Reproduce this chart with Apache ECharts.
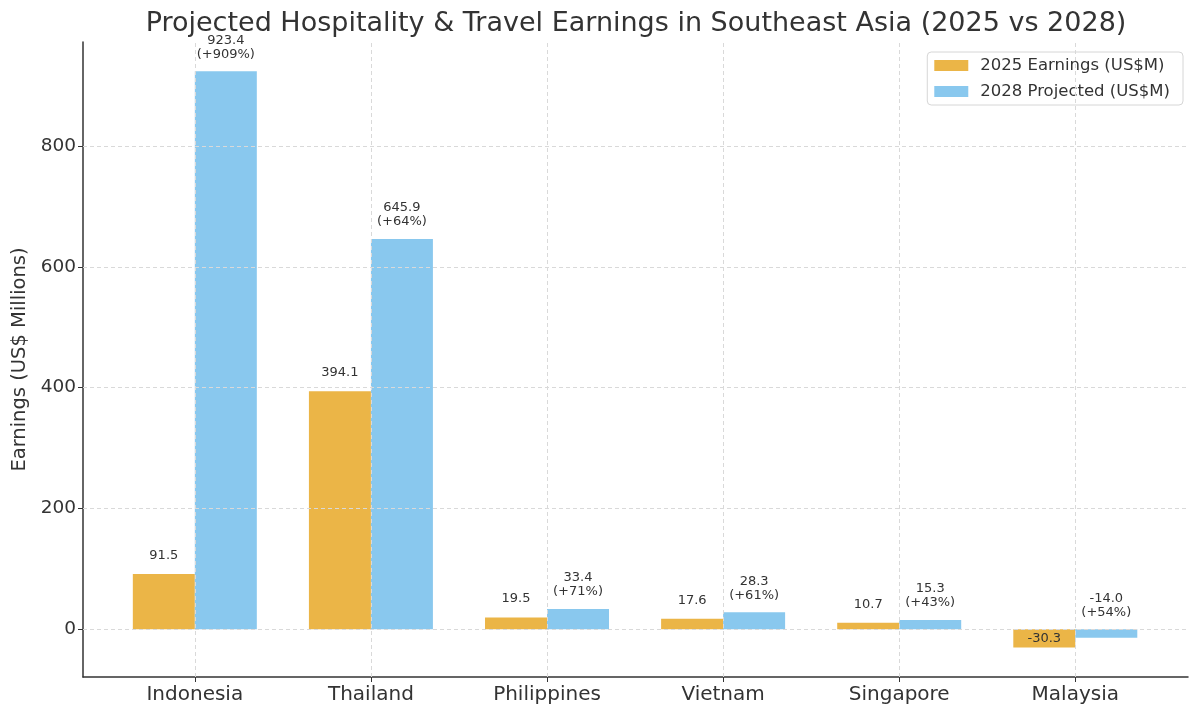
<!DOCTYPE html>
<html>
<head>
<meta charset="utf-8">
<script src="https://cdn.jsdelivr.net/npm/echarts@6/dist/echarts.min.js"></script>
<style>
  html, body { margin: 0; padding: 0; background: #fff; }
  #chart { width: 1200px; height: 715px; }
</style>
</head>
<body>
<div id="chart"></div>
<script>
// data
const countries = ["Indonesia", "Thailand", "Philippines", "Vietnam", "Singapore", "Malaysia"]
const earnings2025 = [91.5, 394.1, 19.5, 17.6, 10.7, -30.3]
const projected2028 = [923.4, 645.9, 33.4, 28.3, 15.3, -14.0]
const growthPct = [909, 64, 71, 61, 43, 54]
const yTicks = [0, 200, 400, 600, 800]

const FONT = "DejaVu Sans"
const idx = countries.map((c, i) => i)

const chart = echarts.init(document.getElementById("chart"))

const option = {
  backgroundColor: "#fff",
  animation: false,
  textStyle: { fontFamily: FONT },
  title: {
    text: "Projected Hospitality & Travel Earnings in Southeast Asia (2025 vs 2028)",
    left: 631,
    top: 5,
    textAlign: "center",
    textStyle: { fontFamily: FONT, fontSize: 27, fontWeight: "normal", color: "#333" },
  },
  legend: {
    orient: "vertical",
    right: 17,
    top: 52,
    data: ["2025 Earnings (US$M)", "2028 Projected (US$M)"],
    icon: "rect",
    itemWidth: 34,
    itemHeight: 11,
    itemGap: 9,
    padding: [5, 13, 5, 7],
    borderColor: "#d6d6d6",
    borderWidth: 1,
    borderRadius: 4,
    backgroundColor: "#fff",
    textStyle: { fontFamily: FONT, fontSize: 16.5, color: "#333", padding: [0, 0, 0, 7] },
  },
  grid: { left: 83, right: 12, top: 42, bottom: 38 },
  xAxis: {
    type: "value",
    min: -0.635,
    max: 5.64,
    splitLine: { show: false },
    axisLine: { show: true, onZero: false, lineStyle: { color: "#333", width: 1.5 } },
    axisTick: { show: true, customValues: idx, length: 5, lineStyle: { color: "#333" } },
    axisLabel: {
      customValues: idx,
      formatter: (v) => countries[Math.round(v)],
      fontFamily: FONT,
      fontSize: 20,
      color: "#333",
      margin: 8,
    },
  },
  yAxis: {
    type: "value",
    min: -79,
    max: 972,
    name: "Earnings (US$ Millions)",
    nameLocation: "middle",
    nameGap: 51,
    nameTextStyle: { fontFamily: FONT, fontSize: 19.5, color: "#333" },
    splitLine: { show: false },
    axisLine: { show: true, onZero: false, lineStyle: { color: "#333", width: 1.5 } },
    axisTick: { show: true, customValues: yTicks, length: 5, lineStyle: { color: "#333" } },
    axisLabel: {
      customValues: yTicks,
      fontFamily: FONT,
      fontSize: 18.5,
      color: "#333",
      margin: 7,
    },
  },
  series: [
    {
      // dashed grid lines
      name: "grid",
      type: "line",
      data: [],
      silent: true,
      z: 1,
      markLine: {
        silent: true,
        symbol: "none",
        label: { show: false },
        lineStyle: { color: "#d9d9d9", type: [4, 3], width: 1 },
        data: idx.map((i) => ({ xAxis: i })).concat(yTicks.map((t) => ({ yAxis: t }))),
      },
    },
    {
      name: "2025 Earnings (US$M)",
      type: "bar",
      z: 2,
      barWidth: 62,
      barGap: "0%",
      itemStyle: { color: "#ebb547" },
      label: {
        show: true,
        position: "top",
        distance: 12,
        fontFamily: FONT,
        fontSize: 13,
        color: "#333",
        formatter: (p) => p.value[1].toFixed(1),
      },
      data: earnings2025.map((v, i) =>
        v < 0 ? { value: [i, v], label: { position: "inside" } } : { value: [i, v] }
      ),
    },
    {
      name: "2028 Projected (US$M)",
      type: "bar",
      z: 2,
      barWidth: 62,
      barGap: "0%",
      itemStyle: { color: "#89c8ee" },
      label: {
        show: true,
        position: "top",
        distance: 10,
        fontFamily: FONT,
        fontSize: 13,
        lineHeight: 14,
        color: "#333",
        formatter: (p) => p.value[1].toFixed(1) + "\n(+" + growthPct[p.dataIndex] + "%)",
      },
      data: projected2028.map((v, i) => [i, v]),
    },
  ],
}

chart.setOption(option)
</script>
</body>
</html>
